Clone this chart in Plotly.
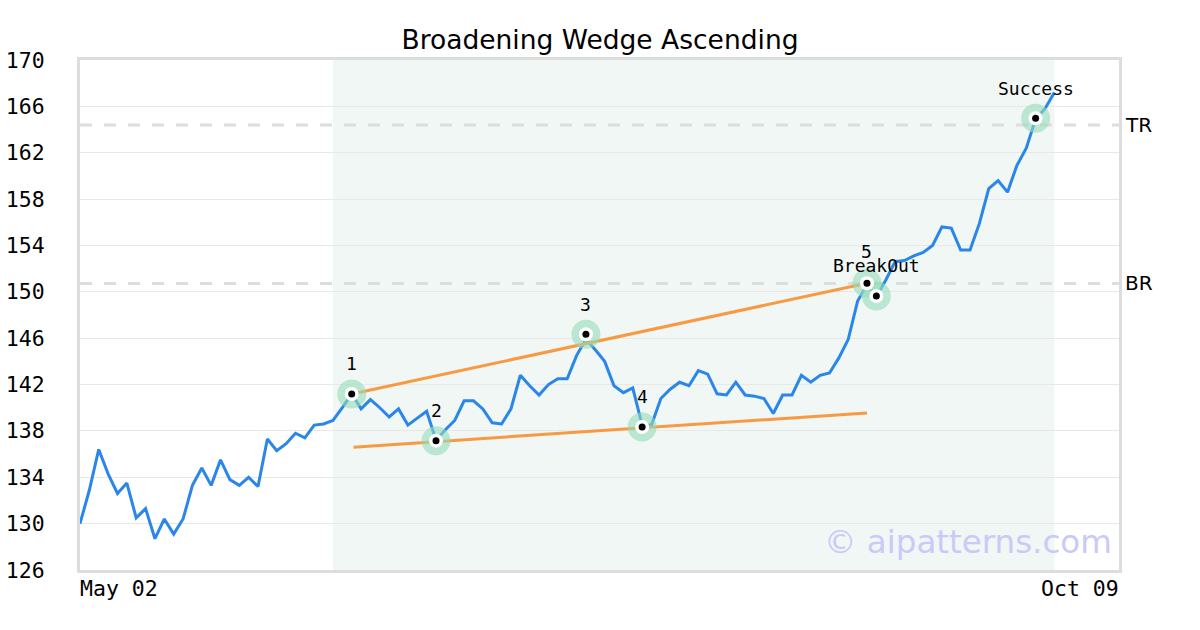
import plotly.graph_objects as go

# ---------------- data ----------------
price = [130.0, 132.9, 136.4, 134.3, 132.6, 133.5, 130.5, 131.3, 128.7, 130.4,
         129.1, 130.4, 133.3, 134.8, 133.3, 135.5, 133.8, 133.3, 134.0, 133.2,
         137.3, 136.3, 136.9, 137.8, 137.4, 138.5, 138.6, 138.9, 140.0, 141.2,
         139.9, 140.7, 140.0, 139.2, 139.9, 138.5, 139.1, 139.7, 137.2, 138.1,
         138.9, 140.6, 140.6, 139.9, 138.7, 138.6, 139.9, 142.8, 141.9, 141.1,
         142.0, 142.5, 142.5, 144.5, 145.9, 145.0, 144.0, 141.9, 141.3, 141.7,
         138.5, 138.5, 140.8, 141.6, 142.2, 141.9, 143.2, 142.9, 141.2, 141.1,
         142.2, 141.1, 141.0, 140.8, 139.5, 141.1, 141.1, 142.8, 142.2, 142.8,
         143.0, 144.3, 145.9, 149.2, 150.6, 149.6, 151.0, 152.6, 152.7, 153.1,
         153.4, 154.0, 155.6, 155.5, 153.6, 153.6, 155.9, 158.9, 159.6, 158.6,
         160.9, 162.4, 164.9, 165.8, 167.2]
x_idx = list(range(len(price)))

pivot_idx = [29, 38, 54, 60, 84, 85, 102]
pivot_val = [141.19, 137.16, 146.34, 138.34, 150.74, 149.64, 164.97]
pivot_labels = ["1", "2", "3", "4", "5", "BreakOut", "Success"]

upper_x = [29, 84]
upper_y = [141.19, 150.74]
lower_x = [29.2, 84.0]
lower_y = [136.6, 139.55]

tr_level = 164.4
br_level = 150.72
level_labels = ["TR", "BR"]

pattern_span = [27, 104]
x_range = [0, 110.9]
x_tick_text = ["May 02", "Oct 09"]
y_ticks = list(range(126, 171, 4))

title = "Broadening Wedge Ascending"
watermark = "© aipatterns.com"

MONO = "DejaVu Sans Mono"
SANS = "DejaVu Sans"
TICK_SIZE = 21.5

fig = go.Figure()

# shaded pattern region
fig.add_shape(type="rect", xref="x", yref="paper", x0=pattern_span[0], x1=pattern_span[1],
              y0=0, y1=1, fillcolor="#f0f7f4", line_width=0, layer="below")

# TR / BR dashed lines
for lvl in (tr_level, br_level):
    fig.add_shape(type="line", xref="paper", yref="y", x0=0, x1=1, y0=lvl, y1=lvl,
                  line=dict(color="#dddddd", width=3, dash="12px,12px"), layer="below")

# price line
fig.add_trace(go.Scatter(x=x_idx, y=price, mode="lines",
                         line=dict(color="#2a86e8", width=3), hoverinfo="skip"))

# wedge lines
fig.add_trace(go.Scatter(x=upper_x, y=upper_y, mode="lines",
                         line=dict(color="#f79a42", width=3), hoverinfo="skip"))
fig.add_trace(go.Scatter(x=lower_x, y=lower_y, mode="lines",
                         line=dict(color="#f79a42", width=3), hoverinfo="skip"))

# pivot markers: halo, white ring, black dot
fig.add_trace(go.Scatter(x=pivot_idx, y=pivot_val, mode="markers",
                         marker=dict(size=29, color="rgba(150,220,185,0.6)"), hoverinfo="skip"))
fig.add_trace(go.Scatter(x=pivot_idx, y=pivot_val, mode="markers",
                         marker=dict(size=14, color="white"), hoverinfo="skip"))
fig.add_trace(go.Scatter(x=pivot_idx, y=pivot_val, mode="markers",
                         marker=dict(size=7, color="black"), hoverinfo="skip"))

annotations = []
for xi, yv, lab in zip(pivot_idx, pivot_val, pivot_labels):
    yshift = 30
    if lab == "5":
        yshift = 32
    annotations.append(dict(x=xi, y=yv, xref="x", yref="y", text=lab, showarrow=False,
                            yshift=yshift, font=dict(family=MONO, size=18, color="black")))

for lvl, lab in zip((tr_level, br_level), level_labels):
    annotations.append(dict(x=1, y=lvl, xref="paper", yref="y", text=lab, showarrow=False,
                            xanchor="left", xshift=4, font=dict(family=SANS, size=20, color="black")))

# x tick labels at ends of axis
annotations.append(dict(x=x_range[0], y=0, xref="x", yref="paper", text=x_tick_text[0],
                        showarrow=False, xanchor="left", yanchor="top", yshift=-4, xshift=-2,
                        font=dict(family=MONO, size=TICK_SIZE, color="black")))
annotations.append(dict(x=x_range[1], y=0, xref="x", yref="paper", text=x_tick_text[1],
                        showarrow=False, xanchor="right", yanchor="top", yshift=-4, xshift=2,
                        font=dict(family=MONO, size=TICK_SIZE, color="black")))

# watermark
annotations.append(dict(x=0.995, y=0.055, xref="paper", yref="paper", text=watermark,
                        showarrow=False, xanchor="right", yanchor="middle",
                        font=dict(family=SANS, size=32.5, color="#cacaf9")))

fig.update_layout(
    width=1200, height=630,
    margin=dict(l=80, r=81, t=60, b=60, autoexpand=False),
    paper_bgcolor="white", plot_bgcolor="white",
    showlegend=False,
    title=dict(text=title, x=0.5, xanchor="center", y=1 - 40 / 630, yanchor="middle",
               font=dict(family=SANS, size=26.5, color="black")),
    annotations=annotations,
    xaxis=dict(range=x_range, showgrid=False, zeroline=False, showticklabels=False,
               showline=True, linecolor="#dddddd", linewidth=3, mirror=True, ticks="",
               automargin=False),
    yaxis=dict(range=[126, 170], tickvals=y_ticks, showgrid=True, gridcolor="#e8e8e8", gridwidth=1,
               zeroline=False, showline=True, linecolor="#dddddd", linewidth=3, mirror=True,
               ticks="", ticklabelstandoff=28, automargin=False,
               tickfont=dict(family=MONO, size=TICK_SIZE, color="black")),
)

fig.write_html("out.html", config={"displayModeBar": False},
               post_script="document.body.style.margin='0';document.body.style.overflow='hidden';")
